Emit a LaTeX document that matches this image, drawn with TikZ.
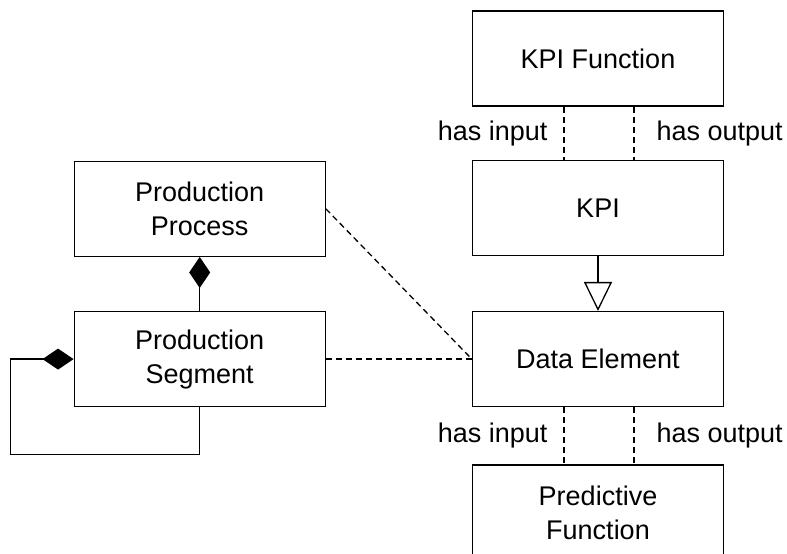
\documentclass[tikz,border=0pt]{standalone}
\usepackage{fontspec}
\setmainfont{Liberation Sans}
\usetikzlibrary{arrows.meta, positioning}

\begin{document}
\begin{tikzpicture}[
  x=1pt, y=-1pt,
  node distance=54pt,
  klasse/.style={draw, line width=1.3pt, minimum width=251pt, minimum height=95pt,
                 align=center, font=\fontsize{27}{34}\selectfont},
  beziehung/.style={dashed, dash pattern=on 6pt off 4pt, line width=1.3pt},
  rolle/.style={inner sep=0pt, font=\fontsize{27}{34}\selectfont},
  komposition/.style={line width=1.3pt, -{Diamond[length=31pt, width=21pt]}},
  generalisierung/.style={line width=1.3pt, -{Triangle[open, length=29pt, width=28pt, fill=white]}}
]
\useasboundingbox (0,0) rectangle (787,554);

\node[klasse] (kpifn) at (598,58.5) {KPI Function};
\node[klasse, below=53pt of kpifn] (kpi) {KPI};
\node[klasse, below=55pt of kpi] (daten) {Data Element};
\node[klasse, below=57pt of daten] (vorher) {Predictive\\Function};
\node[klasse, left=146pt of daten] (segment) {Production\\Segment};
\node[klasse, above=54pt of segment] (prozess) {Production\\Process};

% KPI Function -- KPI
\draw[beziehung] ([xshift=-34pt]kpifn.south) -- node[rolle, left=16pt]{has input} ([xshift=-34pt]kpi.north);
\draw[beziehung] ([xshift=36pt]kpifn.south) -- node[rolle, right=22pt]{has output} ([xshift=36pt]kpi.north);
\draw[generalisierung] (kpi.south) -- (daten.north);

% Data Element -- Predictive Function
\draw[beziehung] ([xshift=-34pt]daten.south) -- node[rolle, left=16pt]{has input} ([xshift=-34pt]vorher.north);
\draw[beziehung] ([xshift=36pt]daten.south) -- node[rolle, right=22pt]{has output} ([xshift=36pt]vorher.north);

% Produktion
\draw[komposition] (segment.north) -- (prozess.south);
\draw[komposition] (segment.south) -- ++(0,47) -| ([xshift=-63pt]segment.west) -- (segment.west);
\draw[beziehung] (prozess.east) -- (daten.west);
\draw[beziehung] (segment.east) -- (daten.west);
\end{tikzpicture}
\end{document}
